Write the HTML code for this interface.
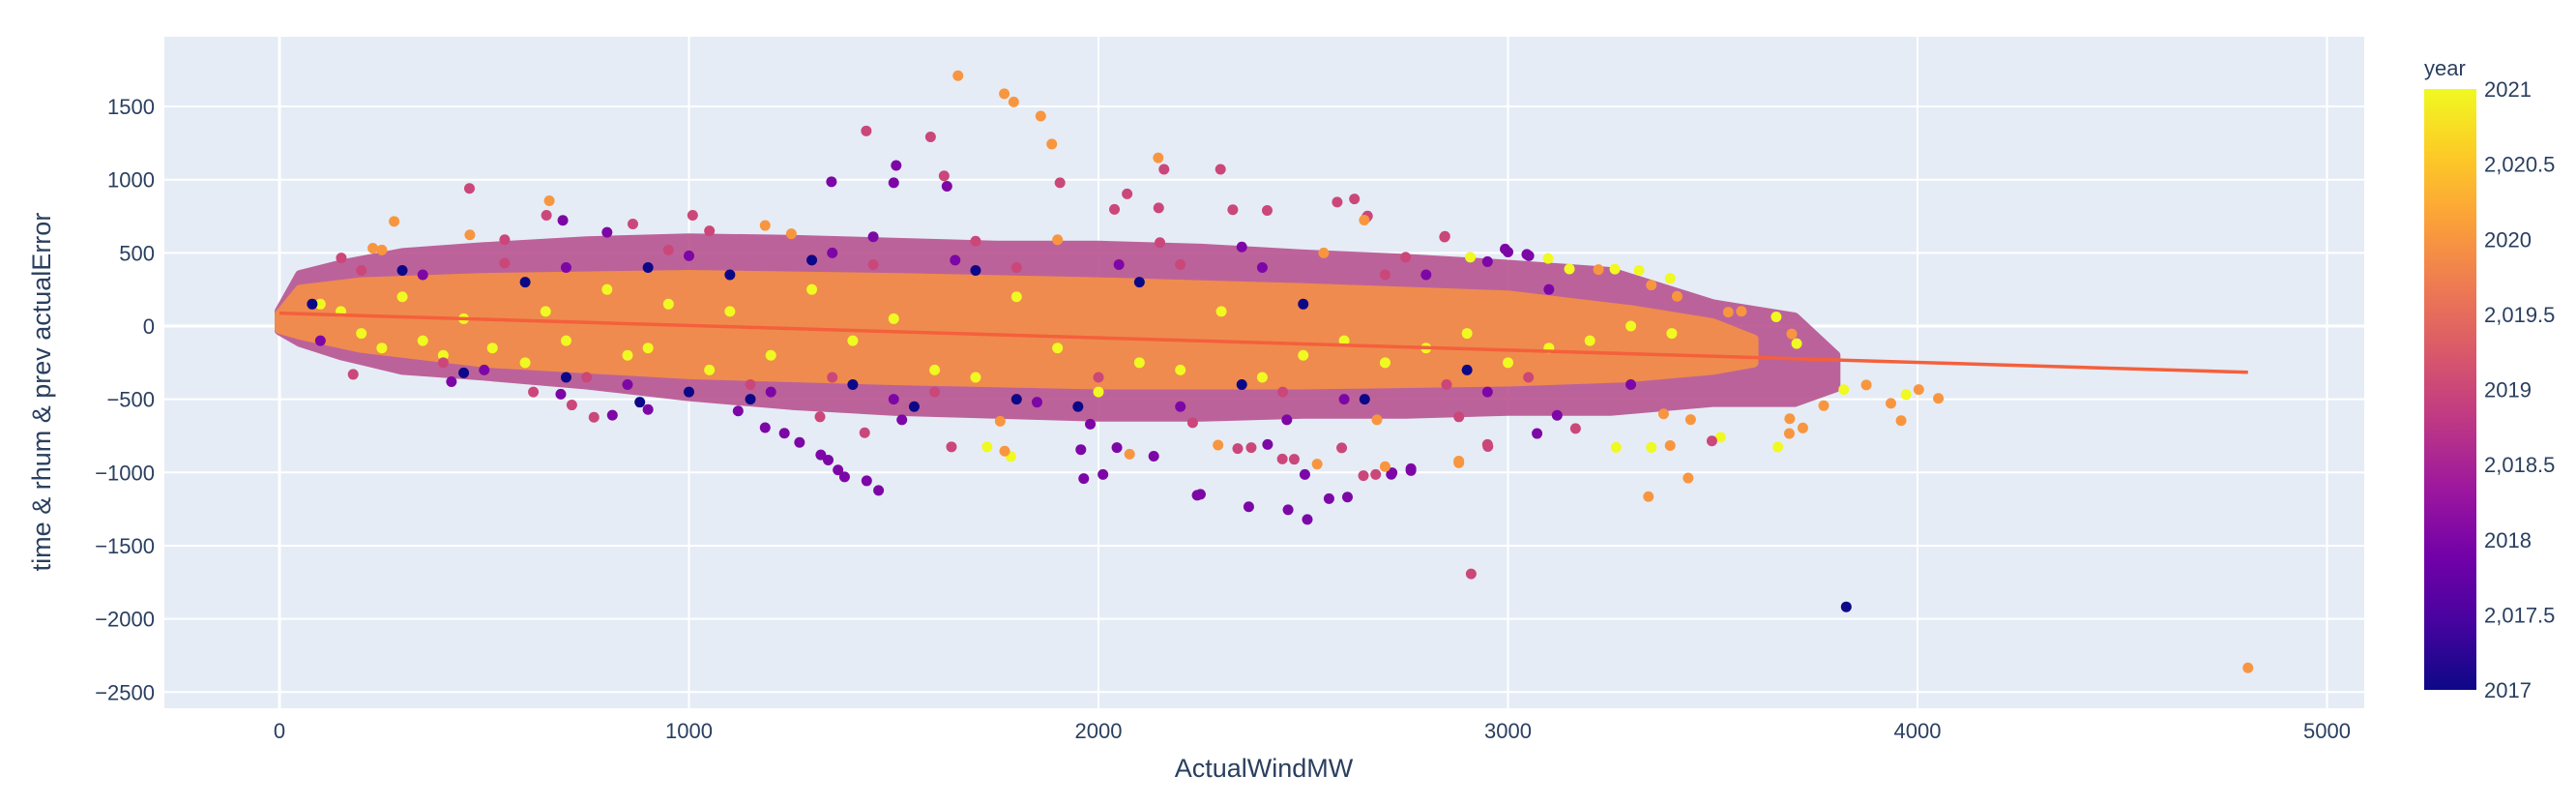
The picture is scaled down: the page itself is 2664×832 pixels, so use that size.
<!DOCTYPE html>
<html><head><meta charset="utf-8"><style>
body{margin:0;background:#fff;width:2664px;height:832px;overflow:hidden}
svg{display:block;font-family:"Liberation Sans",sans-serif}
</style></head><body>
<svg id="chart" width="2664" height="832" xmlns="http://www.w3.org/2000/svg"></svg>
<script>
// ---- data ----
const xTicks=[0,1000,2000,3000,4000,5000];
const yTicks=[1500,1000,500,0,-500,-1000,-1500,-2000,-2500];
const yTickLabels=["1500","1000","500","0","\u2212500","\u22121000","\u22121500","\u22122000","\u22122500"];
const cbTicks=[2017,2017.5,2018,2018.5,2019,2019.5,2020,2020.5,2021];
const cbTickLabels=["2017","2,017.5","2018","2,018.5","2019","2,019.5","2020","2,020.5","2021"];
// envelope of dense cloud
const outerX=[0,50,150,300,500,750,1000,1250,1500,1750,2000,2250,2500,2750,3000,3250,3500,3700,3800];
const outerHi=[100,350,420,500,540,580,600,590,570,550,550,530,490,460,420,370,150,60,-200];
const outerLo=[-30,-110,-200,-300,-340,-400,-480,-540,-580,-600,-620,-620,-600,-600,-580,-580,-520,-520,-420];
const innerX=[0,50,200,500,1000,1500,2000,2500,3000,3300,3500,3600];
const innerHi=[80,250,300,330,350,330,300,260,210,110,20,-90];
const innerLo=[-20,-60,-150,-250,-330,-370,-400,-400,-380,-350,-300,-250];
// individual points
const ptX=[4807,2910,3343,3440,2845,4051,4003,3960,3935,3972,3875,3820,3771,3720,3687,3659,3688,3705,3693,3655,3570,3538,3519,3498,3396,3350,3264,3446,3000,3046,3098,3221,3261,3320,3396,3413,2880,2951,2763,2715,2647,2655,3071,3165,3826,
1657,1770,1793,1859,1886,1433,1590,1506,1348,1500,1623,1630,1906,2146,2160,2298,2070,2039,2147,2328,2412,2583,2625,2657,2649,2846,2993,2908,3051,
2241,2249,2367,2463,2510,2563,2608,2504,1964,2011,1957,2045,2076,1270,1322,1340,1364,1380,1434,1463,2677,2717,2763,2880,2700,2449,2478,2534,1786,1771,1641,1728,2340,2373,2413,2594,2950,2292,2135,
464,659,652,465,280,692,1009,151,228,1186,863,768,813,900,714,687,1186,1233,1429,
100,150,200,250,300,350,400,450,520,600,650,700,800,850,900,950,1050,1100,1200,1300,1400,1500,1600,1700,1800,1900,2000,2100,2200,2300,2400,2500,2600,2700,2800,2900,3000,3100,3200,3300,3400,
80,300,450,600,700,900,1000,1100,1150,1300,1400,1550,1700,1800,1950,2100,2350,2500,2650,2900,
100,350,500,700,850,1000,1200,1350,1500,1650,1850,2050,2200,2400,2600,2800,2950,3100,3300,
200,400,550,750,950,1150,1350,1450,1600,1800,2000,2200,2450,2700,2850,3050,
250,550,800,1050,1250,1450,1700,1900,2150,2350,2550,2750,2950,3150,3350,
180,420,620,880,1120,1320,1520,1760,1980,2230,2460,2680,2880,3120,3380];
const ptY=[-2335,-1693,-1165,-1038,608,-494,-434,-646,-528,-468,-402,-434,-544,-696,-734,-826,-633,-120,-54,63,101,95,-759,-785,-816,-829,-829,-639,506,490,462,386,389,380,326,203,-934,-823,-987,-1013,-1022,744,-734,-700,-1918,
1710,1587,1531,1434,1243,1333,1292,1097,986,979,1026,955,979,1149,1071,1071,903,797,807,795,790,847,868,752,724,613,526,470,480,
-1156,-1149,-1234,-1255,-1321,-1179,-1168,-1014,-1042,-1014,-844,-830,-875,-795,-880,-915,-983,-1030,-1057,-1123,-1014,-1002,-974,-922,-960,-908,-910,-943,-891,-854,-825,-825,-837,-830,-809,-832,-809,-813,-889,
940,856,757,623,715,722,757,465,532,687,697,-623,-609,-570,-539,-465,-694,-732,-729,
150,100,-50,-150,200,-100,-200,50,-150,-250,100,-100,250,-200,-150,150,-300,100,-200,250,-100,50,-300,-350,200,-150,-450,-250,-300,100,-350,-200,-100,-250,-150,-50,-250,-150,-100,0,-50,
150,380,-320,300,-350,400,-450,350,-500,450,-400,-550,380,-500,-550,300,-400,150,-500,-300,
-100,350,-300,400,-400,480,-450,500,-500,450,-520,420,-550,400,-500,350,-450,250,-400,
380,-250,430,-350,520,-400,-350,420,-450,400,-350,420,-450,350,-400,-350,
520,590,640,650,630,610,580,590,570,540,500,470,440,390,280,
-330,-380,-450,-520,-580,-620,-640,-650,-670,-660,-640,-640,-620,-610,-600];
const ptYear=[2020,2019,2020,2020,2019,2020,2020,2020,2020,2021,2020,2021,2020,2020,2020,2021,2020,2021,2020,2021,2020,2020,2021,2019,2020,2021,2021,2020,2018,2018,2021,2020,2021,2021,2021,2020,2020,2019,2018,2018,2019,2019,2018,2019,2017,
2020,2020,2020,2020,2020,2019,2019,2018,2018,2018,2019,2018,2019,2020,2019,2019,2019,2019,2019,2019,2019,2019,2019,2019,2020,2019,2018,2021,2018,
2018,2018,2018,2018,2018,2018,2018,2018,2018,2018,2018,2018,2020,2018,2018,2018,2018,2018,2018,2018,2019,2018,2018,2020,2020,2019,2019,2020,2021,2020,2019,2021,2019,2019,2018,2019,2019,2020,2018,
2019,2020,2019,2020,2020,2018,2019,2019,2020,2020,2019,2019,2018,2018,2019,2018,2018,2018,2019,
2021,2021,2021,2021,2021,2021,2021,2021,2021,2021,2021,2021,2021,2021,2021,2021,2021,2021,2021,2021,2021,2021,2021,2021,2021,2021,2021,2021,2021,2021,2021,2021,2021,2021,2021,2021,2021,2021,2021,2021,2021,
2017,2017,2017,2017,2017,2017,2017,2017,2017,2017,2017,2017,2017,2017,2017,2017,2017,2017,2017,2017,
2018,2018,2018,2018,2018,2018,2018,2018,2018,2018,2018,2018,2018,2018,2018,2018,2018,2018,2018,
2019,2019,2019,2019,2019,2019,2019,2019,2019,2019,2019,2019,2019,2019,2019,2019,
2020,2019,2018,2019,2020,2018,2019,2020,2019,2018,2020,2019,2018,2021,2020,
2019,2018,2019,2017,2018,2019,2018,2020,2018,2019,2018,2020,2019,2018,2020];
const trendX=[0,4807];
const trendY=[88,-316];

// ---- layout ----
const L=170,R=2445,T=38,B=732;
const X0=289,XS=0.4235,Y0=337,YS=0.1513;
const sx=v=>X0+v*XS, sy=v=>Y0-v*YS;
const NS="http://www.w3.org/2000/svg";
const svg=document.getElementById('chart');
function mk(tag,attrs,parent){const e=document.createElementNS(NS,tag);for(const k in attrs)e.setAttribute(k,attrs[k]);(parent||svg).appendChild(e);return e;}
const plasma=[[13,8,135],[70,3,159],[114,1,168],[156,23,158],[189,55,134],[216,87,107],[237,121,83],[251,159,58],[253,202,38],[240,249,33]];
function col(y){let t=(y-2017)/4;t=Math.max(0,Math.min(1,t));const f=t*9,i=Math.min(8,Math.floor(f)),r=f-i;const a=plasma[i],b=plasma[i+1];return `rgb(${Math.round(a[0]+(b[0]-a[0])*r)},${Math.round(a[1]+(b[1]-a[1])*r)},${Math.round(a[2]+(b[2]-a[2])*r)})`;}

const bg=mk('rect',{x:L,y:T,width:R-L,height:B-T,fill:'#e5ecf6'});



xTicks.forEach(v=>{
 const g=mk('line',{x1:sx(v),x2:sx(v),y1:T,y2:B,stroke:'#fff','stroke-width':v===0?3:2});
 
 
 const t=mk('text',{x:sx(v),y:763,'text-anchor':'middle','font-size':22,fill:'#2a3f5f'});
 t.textContent=String(v);
 
 
});
yTicks.forEach((v,i)=>{
 const g=mk('line',{x1:L,x2:R,y1:sy(v),y2:sy(v),stroke:'#fff','stroke-width':v===0?3:2});
 
 
 const t=mk('text',{x:160,y:sy(v)+8,'text-anchor':'end','font-size':22,fill:'#2a3f5f'});
 t.textContent=yTickLabels[i];
 
 
});

function band(xs,hi,lo,fill,name,op){
 let d='M'+xs.map((x,i)=>sx(x)+','+sy(hi[i])).join(' L');
 for(let i=xs.length-1;i>=0;i--)d+=' L'+sx(xs[i])+','+sy(lo[i]);
 const p=mk('path',{d:d+'Z',fill:fill,stroke:fill,'stroke-width':10,'stroke-linejoin':'round',opacity:op});
 
 
}
band(outerX,outerHi,outerLo,'#b54a8a','dense-cloud-outer',0.85);
band(innerX,innerHi,innerLo,'#ef8b4e','dense-cloud-inner',1);

const pg=mk('g',{});


for(let i=0;i<ptX.length;i++){
 const c=mk('circle',{cx:sx(ptX[i]),cy:sy(ptY[i]),r:5.5,fill:col(ptYear[i])},pg);
 
 
}
const tl=mk('line',{x1:sx(trendX[0]),y1:sy(trendY[0]),x2:sx(trendX[1]),y2:sy(trendY[1]),stroke:'#f4603c','stroke-width':3.5});



const xt=mk('text',{x:1307,y:803,'text-anchor':'middle','font-size':27,fill:'#2a3f5f'});
xt.textContent='ActualWindMW';


const yt=mk('text',{x:0,y:0,'text-anchor':'middle','font-size':27,fill:'#2a3f5f',transform:'translate(52,405) rotate(-90)'});
yt.textContent='time & rhum & prev actualError';



// colorbar
const CT=92,CB=713;
const defs=mk('defs',{});
const lg=mk('linearGradient',{id:'pl',x1:0,y1:1,x2:0,y2:0},defs);
plasma.forEach((c,i)=>mk('stop',{offset:(i/9),'stop-color':`rgb(${c})`},lg));
const cb=mk('rect',{x:2507,y:CT,width:54,height:CB-CT,fill:'url(#pl)'});


cbTicks.forEach((v,i)=>{
 const t=mk('text',{x:2569,y:CB-(v-2017)/4*(CB-CT)+8,'font-size':22,fill:'#2a3f5f'});
 t.textContent=cbTickLabels[i];
 
 
});
const ct=mk('text',{x:2507,y:78,'font-size':22,fill:'#2a3f5f'});
ct.textContent='year';


</script>
</body></html>
